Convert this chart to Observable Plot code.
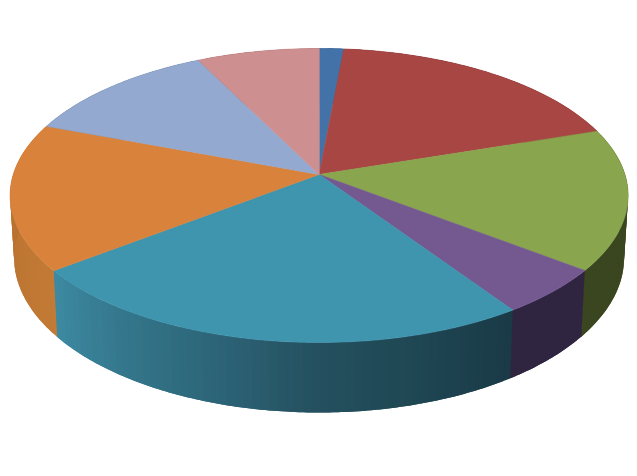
<!DOCTYPE html>
<html>
<head>
<meta charset="utf-8">
<script src="https://cdn.jsdelivr.net/npm/d3@7"></script>
<script src="https://cdn.jsdelivr.net/npm/@observablehq/plot@0.6"></script>
<style>html,body{margin:0;padding:0;background:#fff}svg{display:block}</style>
</head>
<body>
<div id="chart"></div>
<script>
const categories = ["A","B","C","D","E","F","G","H"];
const values = [4.6, 59.5, 56.6, 20.5, 98.0, 58.9, 38.9, 23];
const topColors = ["#4272a8","#a84644","#89a54e","#745890","#3f94ae","#d9823c","#93a9cf","#cd8f8f"];
const wallStops = [
  ["#2a4568","#2a4568"],
  ["#6a2b2a","#6a2b2a"],
  ["#3a4620","#3a4620"],
  ["#2f2540","#2f2540"],
  ["#1a3a46","#1f4653","#24505f","#2d6578","#34778c","#3d8aa2"],
  ["#c27a35","#b46e2e"],
  ["#5a6a82","#5a6a82"],
  ["#80595a","#80595a"]
];

const total = d3.sum(values);
const rad = d => d * Math.PI / 180;
const top_ = {cx: 0, cy: 0, rx: 309 / 310, ry: 1};
const low = {cx: 0, cy: -62 / 147, rx: 305 / 310, ry: 155 / 147};
const apex = {x: 0, y: 21 / 147};
const pt = (e, a) => ({x: e.cx + e.rx * Math.sin(a), y: e.cy + e.ry * Math.cos(a)});

const wallRows = [];
const faceRows = [];
let id = 0;
function poly(target, color, pts) {
  id++;
  for (const p of pts) target.push({id, color, x: p.x, y: p.y});
}
const steps = (a0, a1, n) => d3.range(n + 1).map(i => a0 + (a1 - a0) * i / n);

let cum = 0;
const spans = values.map((v, i) => {
  const a0 = cum / total * 2 * Math.PI;
  cum += v;
  return {i, a0, a1: cum / total * 2 * Math.PI};
});
// side wall: narrow bands, each painted over the tail of the band before it
for (const {i, a0, a1} of spans) {
  const n = Math.max(1, Math.round((a1 - a0) / rad(1.6)));
  const stops = wallStops[i];
  const ramp = d3.scaleLinear(d3.range(stops.length).map(k => k / (stops.length - 1)), stops).interpolate(d3.interpolateRgb);
  const s = steps(a0, a1, n);
  for (let k = 0; k < n; k++) {
    const end = k + 2 <= n ? s[k + 2] : a1 + rad(0.25);
    const b = steps(s[k], end, 4);
    poly(wallRows, d3.rgb(ramp((k + 0.5) / n)).formatHex(), [...b.map(a => pt(top_, a)), ...b.slice().reverse().map(a => pt(low, a))]);
  }
}
for (const {i, a0, a1} of spans) {
  const n = Math.ceil((a1 - a0) / rad(1));
  poly(faceRows, topColors[i], [apex, ...steps(a0, a1, n).map(a => pt(top_, a))]);
}

const chart = Plot.plot({
  width: 637,
  height: 476,
  margin: 0,
  x: {domain: [-318.6 / 310, 318.4 / 310], range: [0, 637], axis: null},
  y: {domain: [195 / 147, (195 - 476) / 147], range: [0, 476], axis: null},
  marks: [
    Plot.line(wallRows, {x: "x", y: "y", z: "id", fill: "color", strokeWidth: 0, curve: "linear-closed"}),
    Plot.line(faceRows, {x: "x", y: "y", z: "id", fill: "color", stroke: "color", strokeWidth: 0.6, curve: "linear-closed"})
  ]
});
document.getElementById("chart").append(chart);
</script>
</body>
</html>
